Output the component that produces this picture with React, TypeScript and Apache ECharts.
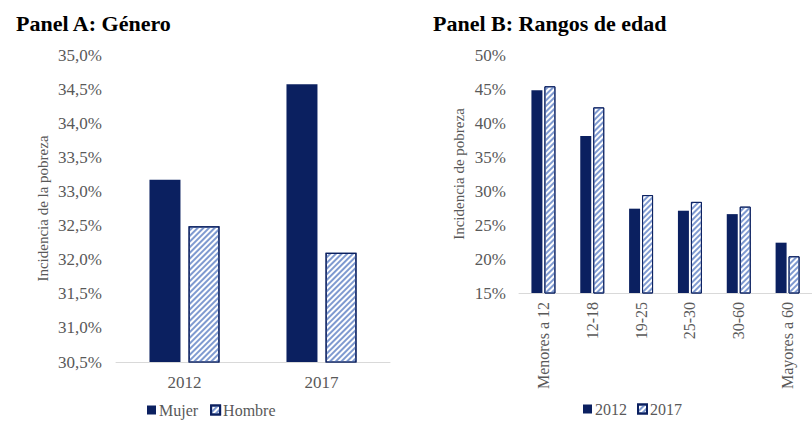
import React, { useEffect, useRef } from "react";
import * as echarts from "echarts";

const yearsA = ["2012", "2017"];
const mujer = [33.17, 34.57];
const hombre = [32.49, 32.1];

const agesB = ["Menores a 12", "12-18", "19-25", "25-30", "30-60", "Mayores a 60"];
const v2012 = [44.8, 38.1, 27.4, 27.1, 26.6, 22.4];
const v2017 = [45.4, 42.3, 29.4, 28.4, 27.7, 20.4];

const NAVY = "#0b2060";
const HATCH = "#7f9ad0";
const FONT = "Liberation Serif";
const GRAY = "#595959";

export default function App() {
  const ref = useRef<HTMLDivElement>(null);
  useEffect(() => {
    document.body.style.margin = "0";
    const chart = echarts.init(ref.current!, null, { renderer: "svg" });
    const hatchStyle = {
      color: "#ffffff",
      borderColor: NAVY,
      borderWidth: 1.2,
      decal: {
        symbol: "rect",
        color: HATCH,
        dashArrayX: [1, 0],
        dashArrayY: [2, 2],
        rotation: -Math.PI / 4,
      },
    };
    const axisLabel = { color: GRAY, fontFamily: FONT, fontSize: 17 };
    const legendText = { color: GRAY, fontFamily: FONT, fontSize: 16, padding: [0, 0, 0, -2] };
    chart.setOption({
      animation: false,
      textStyle: { fontFamily: FONT },
      title: [
        { text: "Panel A: Género", left: 11, top: 7, textStyle: { fontFamily: FONT, fontWeight: "bold", fontSize: 22, color: "#000" } },
        { text: "Panel B: Rangos de edad", left: 428, top: 7, textStyle: { fontFamily: FONT, fontWeight: "bold", fontSize: 22, color: "#000" } },
      ],
      legend: [
        {
          data: ["Mujer", "Hombre"],
          left: 147,
          top: 402,
          padding: 0,
          icon: "rect",
          itemWidth: 9,
          itemHeight: 9,
          itemGap: 12,
          textStyle: legendText,
        },
        {
          data: ["2012", "2017"],
          left: 583,
          top: 401,
          padding: 0,
          icon: "rect",
          itemWidth: 9,
          itemHeight: 9,
          itemGap: 10,
          textStyle: legendText,
        },
      ],
      grid: [
        { left: 116, width: 274, top: 55, height: 307 },
        { left: 519, width: 300, top: 55, height: 238 },
      ],
      xAxis: [
        {
          type: "category",
          gridIndex: 0,
          data: yearsA,
          axisLine: { lineStyle: { color: "#d9d9d9" } },
          axisTick: { show: false },
          axisLabel: { ...axisLabel, margin: 12 },
        },
        {
          type: "category",
          gridIndex: 1,
          data: agesB,
          axisLine: { lineStyle: { color: "#d9d9d9" } },
          axisTick: { show: false },
          axisLabel: { ...axisLabel, fontSize: 16, rotate: 90, margin: 9, interval: 0 },
        },
      ],
      yAxis: [
        {
          type: "value",
          gridIndex: 0,
          min: 30.5,
          max: 35,
          interval: 0.5,
          splitLine: { show: false },
          axisLine: { show: false },
          axisTick: { show: false },
          axisLabel: { ...axisLabel, margin: 14, formatter: (v: number) => v.toFixed(1).replace(".", ",") + "%" },
          name: "Incidencia de la pobreza",
          nameLocation: "middle",
          nameGap: 66,
          nameTextStyle: { color: GRAY, fontFamily: FONT, fontSize: 15 },
        },
        {
          type: "value",
          gridIndex: 1,
          min: 15,
          max: 50,
          interval: 5,
          splitLine: { show: false },
          axisLine: { show: false },
          axisTick: { show: false },
          axisLabel: { ...axisLabel, margin: 13, formatter: (v: number) => v + "%" },
          name: "Incidencia de pobreza",
          nameLocation: "middle",
          nameGap: 53,
          nameTextStyle: { color: GRAY, fontFamily: FONT, fontSize: 15 },
        },
      ],
      series: [
        { name: "Mujer", type: "bar", xAxisIndex: 0, yAxisIndex: 0, data: mujer, barWidth: 31, barGap: "26%", itemStyle: { color: NAVY } },
        { name: "Hombre", type: "bar", xAxisIndex: 0, yAxisIndex: 0, data: hombre, barWidth: 31, barGap: "26%", itemStyle: hatchStyle },
        { name: "2012", type: "bar", xAxisIndex: 1, yAxisIndex: 1, data: v2012, barWidth: 11, barGap: "18%", itemStyle: { color: NAVY } },
        { name: "2017", type: "bar", xAxisIndex: 1, yAxisIndex: 1, data: v2017, barWidth: 11, barGap: "18%", itemStyle: { ...hatchStyle, borderWidth: 1 } },
      ],
    });
    return () => chart.dispose();
  }, []);
  return <div ref={ref} style={{ width: 812, height: 422 }} />;
}
